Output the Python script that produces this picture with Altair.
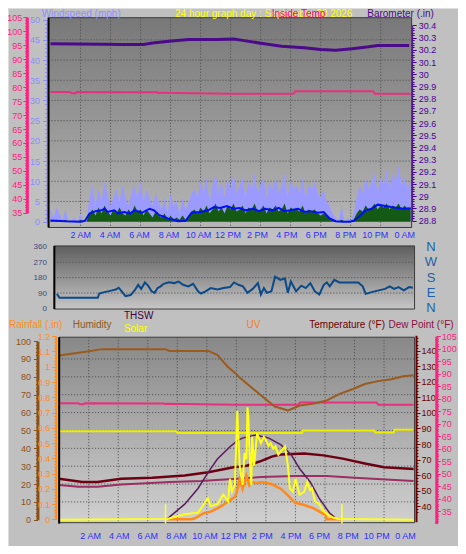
import altair as alt
import pandas as pd

W, H = 450, 538
SX, SY = W / 466, H / 554
FONT = "Liberation Sans"


def X(v):
    return round(v * SX, 2)


def Y(v):
    return round(v * SY, 2)


# ---------------- data ----------------
time_ticks = [2, 4, 6, 8, 10, 12, 14, 16, 18, 20, 22, 24]
grid_hours = [2, 4, 6, 8, 10, 12, 14, 16, 18, 20, 22]
wind_grid = [5, 10, 15, 20, 25, 30, 35, 40, 45]
dir_grid = [90, 180, 270]
hum_grid = [10, 20, 30, 40, 50, 60, 70, 80, 90]

gust_hours = [round(i * 0.2, 1) for i in range(121)]
gust_mph = [3, 1, 3.5, 2, 0.5, 3,
            0, 0, 1, 0, 2, 0, 0.5,
            6, 9, 4, 8, 5, 10, 7, 4, 6, 8, 5, 9, 6, 4, 7, 9, 6, 10, 5, 8, 6, 4, 7, 5,
            3, 6, 2, 7, 4, 5, 2, 6, 3, 5, 7,
            8, 6, 10, 7, 11, 5, 9, 12, 7, 10, 6, 11, 8, 12, 7, 9, 11, 6, 10, 8,
            12, 7, 9, 11, 6, 10, 8, 11, 7, 9, 12, 6, 10, 8, 9, 7, 11, 6, 9, 8, 10, 7, 6, 8,
            5, 4, 2, 1, 0, 4, 0, 1, 0, 2,
            6, 9, 7, 11, 8, 10, 12, 7, 11, 9, 13, 8, 12, 10, 14, 9, 11, 8, 10]
wind_mph = [0.5, 0, 0.5, 0, 0, 0.5,
            0, 0, 0, 0, 0.5, 0, 0,
            2, 3, 1.5, 3.5, 2, 4, 2.5, 1.5, 3, 2, 3.5, 2, 1.5, 3, 2, 4, 2.5, 3, 1.5, 3, 2, 1, 2.5, 1.5,
            1, 2, 0.5, 1.5, 0.5, 1, 0.5, 1.5, 0.5, 1, 2.5,
            3, 2, 3.5, 2.5, 4, 2, 3, 4.5, 2.5, 3.5, 2, 4, 3, 4.5, 2.5, 3, 4, 2, 3.5, 3,
            4.5, 2.5, 3, 4, 2, 3.5, 3, 4, 2.5, 3, 4.5, 2, 3.5, 3, 3, 2.5, 4, 2, 3, 2.5, 3, 2, 1.5, 2,
            1.5, 1, 0.5, 0, 0, 0.5, 0, 0, 0, 0.5,
            2, 3, 2.5, 4, 3, 3.5, 4.5, 3, 4, 3.5, 4.5, 3, 4, 3.5, 4.5, 3, 4, 3, 3.5]

avg_hours = [0, 1.0, 2.0, 2.3, 2.6, 3.0, 3.4, 3.6, 3.8, 4.25, 4.5, 4.9, 5.3, 5.6, 6.1, 6.6, 6.9,
             7.25, 7.6, 7.9, 8.1, 8.5, 9.0, 9.4, 10.0, 10.5, 10.9, 11.3, 11.75, 12.2, 12.6, 13.0,
             13.5, 13.9, 14.3, 14.8, 15.2, 15.6, 16.0, 16.5, 16.9, 17.3, 17.8, 18.2, 18.6, 19.0,
             19.5, 19.9, 20.2, 20.55, 21.0, 21.4, 21.8, 22.3, 22.7, 23.1, 23.55, 24.0]
avg_mph = [0.3, 0.1, 0, 0.2, 2.0, 2.6, 2.8, 3.2, 2.4, 2.8, 2.0, 2.4, 2.0, 2.8, 2.2, 3.2, 2.8,
           1.6, 1.2, 0.6, 0.6, 0.1, 0.2, 2.2, 2.4, 2.8, 3.6, 3.4, 3.85, 3.2, 3.4, 2.8,
           3.2, 2.6, 3.2, 2.8, 3.4, 2.6, 2.8, 3.2, 2.4, 2.6, 2.2, 2.4, 0.8, 0.1,
           0, 0, 0.2, 1.2, 2.8, 3.2, 4.2, 3.85, 3.6, 3.4, 3.2, 3.3]

baro_hours = [0, 3.6, 4.7, 6.2, 6.8, 7.9, 9.2, 11.1, 12.2, 12.8, 13.9, 15.4, 16.9, 18.0,
              19.0, 20.1, 21.2, 21.8, 23.9]
baro_inhg = [30.25, 30.246, 30.245, 30.244, 30.257, 30.27, 30.286, 30.286, 30.29, 30.278,
             30.257, 30.23, 30.217, 30.203, 30.198, 30.21, 30.225, 30.235, 30.235]

intemp_hours = [0, 1.3, 1.4, 1.65, 1.75, 7.1, 7.2, 7.3, 12.0, 16.2, 16.3, 21.5, 21.6, 24.0]
intemp_f = [78.2, 78.2, 77.8, 77.8, 78.2, 78.1, 77.8, 78.0, 77.6, 77.6, 78.5, 78.5, 77.6, 77.6]

dir_hours = [0.17, 0.34, 2.9, 3.0, 3.35, 3.8, 4.1, 4.3, 4.5, 4.75, 5.1, 5.4, 5.6, 5.8, 6.05,
             6.26, 6.5, 6.7, 6.9, 7.1, 7.3, 7.66, 8.0, 8.3, 8.6, 8.95, 9.27, 9.6, 9.8, 10.1,
             10.45, 10.9, 11.3, 11.74, 12.0, 12.3, 12.6, 12.9, 13.25, 13.6, 13.8, 14.0, 14.2,
             14.5, 14.75, 15.1, 15.4, 15.6, 15.8, 16.15, 16.5, 16.8, 17.1, 17.4, 17.7, 18.0,
             18.2, 18.4, 18.7, 19.05, 20.3, 20.6, 20.8, 21.2, 21.6, 22.1, 22.4, 22.7, 23.0,
             23.35, 23.7, 23.95]
dir_deg = [85, 62, 62, 87, 95, 104, 110, 121, 100, 72, 78, 110, 138, 114, 152,
           133, 100, 91, 119, 129, 144, 153, 148, 157, 138, 129, 144, 100, 87, 100,
           119, 110, 119, 125, 152, 138, 129, 91, 114, 148, 81, 119, 91,
           100, 186, 167, 176, 91, 157, 100, 133, 119, 148, 100, 81, 138,
           152, 129, 167, 152, 152, 129, 85, 95, 104, 114, 129, 114, 125,
           106, 125, 121]
compass_deg = [360, 270, 180, 90, 0]
compass_txt = ["N", "W", "S", "E", "N"]

hum_hours = [0, 1.9, 2.9, 7.2, 7.45, 10.1, 10.7, 11.4, 12.0, 12.2, 12.9, 13.7, 14.6, 15.5,
             16.3, 17.25, 18.1, 19.0, 19.9, 20.7, 21.6, 22.5, 23.3, 24.0]
hum_pct = [92.0, 94.2, 95.5, 95.5, 94.5, 94.5, 92.3, 85.8, 81.4, 79.8, 74.9, 69.4, 63.4, 61.2,
           63.9, 65.0, 66.7, 70.5, 73.2, 76.0, 77.6, 78.7, 80.3, 80.9]

inhum_hours = [0, 7.95, 8.0, 16.45, 16.5, 21.35, 21.4, 22.65, 22.7, 24]
inhum_pct = [49.6, 49.6, 48.6, 48.6, 49.9, 49.9, 48.9, 48.9, 50.4, 50.4]

temp_hours = [0, 1.57, 2.6, 4.2, 6.3, 8.5, 10.1, 11.8, 12.7, 13.7, 14.4, 15.0, 16.6, 17.9,
              19.2, 20.7, 22.0, 24.0]
temp_f = [57.7, 55.6, 55.6, 57.7, 58.3, 59.8, 61.9, 65.0, 66.0, 69.2, 71.9, 73.3, 73.9, 72.7,
          70.6, 67.5, 65.0, 64.0]

dew_hours = [0, 1.3, 2.6, 4.2, 7.5, 9.6, 12.0, 13.7, 15.9, 18.1, 20.3, 24.0]
dew_f = [53.6, 52.5, 52.5, 53.9, 55.6, 56.25, 57.7, 58.75, 59.4, 59.4, 58.1, 56.25]

thsw_hours = [7.3, 8.5, 9.4, 10.1, 10.7, 11.6, 12.1, 12.4, 13.3, 14.2, 15.0, 15.7, 16.3,
              17.0, 17.6, 18.3, 18.8]
thsw_f = [31.7, 41.3, 51.4, 61.9, 70.2, 78.6, 82.3, 83.8, 85.8, 83.8, 79.6, 73.3, 63.9,
          55.6, 45.2, 35.8, 31.7]

solar_hours = [0, 7.32, 8.5, 9.41, 9.8, 10.07, 10.26, 10.72, 11.11, 11.44, 11.57, 11.7, 11.9,
               12.06, 12.22, 12.42, 12.55, 12.68, 12.75, 12.81, 12.88, 13.01, 13.07, 13.2,
               13.4, 13.66, 13.86, 13.99, 14.18, 14.31, 14.5, 14.64, 14.84, 15.03, 15.29,
               15.49, 15.62, 15.82, 16.01, 16.27, 16.6, 16.8, 16.99, 17.12, 17.32, 17.58,
               17.9, 18.24, 18.56, 18.89, 24]
solar_wm2 = [0, 5, 37, 48, 105, 146, 92, 105, 170, 125, 277, 190, 236,
             736, 367, 236, 450, 408, 759, 700, 474, 234, 562, 365,
             584, 518, 560, 540, 500, 518, 480, 496, 440, 464, 496,
             365, 212, 190, 277, 169, 190, 256, 200, 212, 125, 110,
             59, 30, 15, 5, 0]

uv_hours = [7.32, 8.95, 9.15, 9.8, 10.26, 10.72, 11.11, 11.57, 11.9, 12.03, 12.22, 12.42,
            12.68, 12.88, 13.07, 13.33, 13.73, 14.38, 15.03, 15.49, 15.95, 16.6, 17.25, 17.9,
            18.04, 18.1, 19.15]
uv_index = [0, 0, 0.05, 0.4, 0.5, 0.72, 0.94, 1.26, 1.46, 1.78, 2.63, 1.99,
            2.85, 2.21, 2.42, 2.38, 2.42, 2.31, 1.99, 1.57, 1.1, 0.94, 0.72, 0.34,
            0.34, 0, 0]

sun_events = [7.2, 19.15]

# axis tick values
pink_major = [35, 40, 45, 50, 55, 60, 65, 70, 75, 80, 85, 90, 95, 100, 105]
pink_minor = list(range(35, 106))
wind_major = [0, 5, 10, 15, 20, 25, 30, 35, 40, 45, 50]
wind_minor = list(range(0, 51))
baro_major = [round(28.8 + 0.1 * i, 1) for i in range(17)]
baro_minor = [round(28.8 + 0.02 * i, 2) for i in range(81)]
dir_major = [0, 90, 180, 270, 360]
hum_major = [0, 10, 20, 30, 40, 50, 60, 70, 80, 90, 100]
hum_minor = list(range(0, 101, 2))
rain_major = [round(0.1 * i, 1) for i in range(13)]
rain_minor = [round(0.02 * i, 2) for i in range(61)]
temp_major = [40, 50, 60, 70, 80, 90, 100, 110, 120, 130, 140]
temp_minor = list(range(36, 149, 2))
pinkb_major = [35, 40, 45, 50, 55, 60, 65, 70, 75, 80, 85, 90, 95, 100, 105]
pinkb_minor = list(range(31, 106))


# ---------------- scales ----------------
def sc(domain, rng):
    return alt.Scale(domain=domain, range=rng, nice=False, zero=False)


TOP_T = sc([0, 24], [X(44), X(417)])
MID_T = sc([0, 24], [X(48), X(420)])
BOT_T = sc([0, 24], [X(53), X(420)])

WIND = sc([0, 50], [Y(220), Y(12)])
PINK_TOP = sc([35, 105], [Y(211), Y(9.4)])
BARO = sc([28.8, 30.4], [Y(219), Y(18)])
DIR = sc([0, 360], [Y(309.3), Y(246)])
HUM = sc([0, 100], [Y(527), Y(343)])
RAIN = sc([0, 1.2], [Y(526.5), Y(338)])
TEMP = sc([30, 150], [Y(529), Y(337)])
PINK_BOT = sc([30, 105], [Y(530.9), Y(338.1)])
SOLAR = sc([0, 1200], [Y(527), Y(344)])
UV = sc([0, 12], [Y(526.5), Y(338)])

NUM_EXPR = "format(datum.value, '~g')"


def series(h, v, xs, ys, color, width=1.5, kind="line"):
    df = pd.DataFrame({"h": h, "v": v})
    base = alt.Chart(df)
    if kind == "area":
        m = base.mark_area(color=color, opacity=1)
    else:
        m = base.mark_line(color=color, strokeWidth=width)
    return m.encode(x=alt.X("h:Q", scale=xs, axis=None),
                    y=alt.Y("v:Q", scale=ys, axis=None))


def yaxis(ys, orient, xpos, values, color, labels=True, size=4, domain=True,
          dwidth=2, font=9, pad=1):
    off = -xpos if orient == "left" else xpos - W
    ax = alt.Axis(orient=orient, offset=off, values=values, labels=labels,
                  ticks=size > 0, tickSize=size, tickColor=color, tickWidth=1,
                  domain=domain, domainColor=color, domainWidth=dwidth,
                  labelColor=color, labelFontSize=font, labelFont=FONT,
                  labelPadding=pad, labelOverlap=False, labelBound=False,
                  labelFlush=False, grid=False, title=None, labelExpr=NUM_EXPR)
    df = pd.DataFrame({"v": [values[0]]})
    return alt.Chart(df).mark_point(opacity=0).encode(
        y=alt.Y("v:Q", scale=ys, axis=ax))


LABEL_EXPR = ("datum.value == 24 ? '0 AM' : datum.value < 12 ? datum.value + ' AM' : "
              "datum.value == 12 ? '12 PM' : (datum.value - 12) + ' PM'")


def xlabels(ypos, rng, color):
    ax = alt.Axis(orient="bottom", offset=ypos - H, values=time_ticks,
                  labelExpr=LABEL_EXPR, ticks=False, tickSize=0, domain=False,
                  labelColor=color, labelFontSize=9, labelFont=FONT,
                  labelPadding=0, labelOverlap=False, labelBound=False,
                  labelFlush=False, grid=False, title=None)
    df = pd.DataFrame({"v": [2]})
    return alt.Chart(df).mark_point(opacity=0).encode(
        x=alt.X("v:Q", scale=sc([0, 24], rng), axis=ax))


def panel(x0, x1, y0, y1, c0, c1):
    grad = alt.Gradient(gradient="linear",
                        stops=[alt.GradientStop(color=c0, offset=0),
                               alt.GradientStop(color=c1, offset=1)],
                        x1=0, x2=0, y1=0, y2=1)
    return alt.Chart(pd.DataFrame({"a": [0]})).mark_rect(
        fill=grad, stroke="#3a3a3a", strokeWidth=1).encode(
        x=alt.value(X(x0)), x2=alt.value(X(x1)),
        y=alt.value(Y(y0)), y2=alt.value(Y(y1)))


def vgrid(xs, y0, y1):
    return alt.Chart(pd.DataFrame({"h": grid_hours})).mark_rule(
        color="#4a4a4a", strokeDash=[1, 2], strokeWidth=1).encode(
        x=alt.X("h:Q", scale=xs, axis=None),
        y=alt.value(Y(y0)), y2=alt.value(Y(y1)))


def hgrid(vals, ys, x0, x1):
    return alt.Chart(pd.DataFrame({"v": vals})).mark_rule(
        color="#4a4a4a", strokeDash=[1, 2], strokeWidth=1).encode(
        y=alt.Y("v:Q", scale=ys, axis=None),
        x=alt.value(X(x0)), x2=alt.value(X(x1)))


def edge(x, y0, y1, color="#000000", w=2):
    return alt.Chart(pd.DataFrame({"a": [0]})).mark_rule(
        color=color, strokeWidth=w).encode(
        x=alt.value(X(x)), y=alt.value(Y(y0)), y2=alt.value(Y(y1)))


def label(txt, x, y, color, size=10):
    return alt.Chart(pd.DataFrame({"a": [0]})).mark_text(
        align="left", baseline="middle", font=FONT, fontSize=size, color=color).encode(
        x=alt.value(X(x)), y=alt.value(Y(y)), text=alt.value(txt))


layers = [
    # panels
    panel(42, 418, 10, 226, "#787878", "#b6b6b6"),
    panel(48, 421, 245, 310, "#5e5e5e", "#c6c6c6"),
    panel(53, 421, 339, 530, "#888888", "#d0d0d0"),
    # grids
    vgrid(TOP_T, 10, 226),
    hgrid(wind_grid, WIND, 42, 418),
    hgrid(dir_grid, DIR, 48, 421),
    vgrid(BOT_T, 339, 530),
    hgrid(hum_grid, HUM, 53, 421),
    # top panel data
    series(gust_hours, gust_mph, TOP_T, WIND, "#9b9bff", kind="area"),
    series(gust_hours, wind_mph, TOP_T, WIND, "#145a14", kind="area"),
    series(avg_hours, avg_mph, TOP_T, WIND, "#0010f0", 2),
    series(intemp_hours, intemp_f, TOP_T, PINK_TOP, "#e8317c", 2),
    series(baro_hours, baro_inhg, TOP_T, BARO, "#4a0a8a", 3),
    # middle panel data
    series(dir_hours, dir_deg, MID_T, DIR, "#0a4a8a", 2),
    # bottom panel data
    series(intemp_hours, intemp_f, BOT_T, PINK_BOT, "#e8317c", 2),
    series(inhum_hours, inhum_pct, BOT_T, HUM, "#eeee00", 2),
    series(hum_hours, hum_pct, BOT_T, HUM, "#9a5b1c", 2),
    series(dew_hours, dew_f, BOT_T, TEMP, "#9a2f62", 2),
    series(temp_hours, temp_f, BOT_T, TEMP, "#6e0014", 2.5),
    series(thsw_hours, thsw_f, BOT_T, TEMP, "#5a1a5e", 1.5),
    series(uv_hours, uv_index, BOT_T, UV, "#ff8a1a", 2.5),
    series(solar_hours, solar_wm2, BOT_T, SOLAR, "#ffff1a", 2),
    alt.Chart(pd.DataFrame({"h": sun_events})).mark_rule(
        color="#ffff40", strokeWidth=1.5).encode(
        x=alt.X("h:Q", scale=BOT_T, axis=None),
        y=alt.value(Y(511)), y2=alt.value(Y(531))),
    # borders
    edge(42, 10, 226),
    edge(48, 245, 310),
    edge(53, 339, 531),
    # axes - top
    yaxis(PINK_TOP, "left", X(19.5), pink_minor, "#ff2080", labels=False, size=2, domain=False),
    yaxis(PINK_TOP, "left", X(19.5), pink_major, "#ff2080", size=4, dwidth=3),
    yaxis(WIND, "left", X(40), wind_minor, "#8c8cff", labels=False, size=2, domain=False),
    yaxis(WIND, "left", X(40), wind_major, "#8c8cff", size=4, dwidth=1, pad=3),
    yaxis(BARO, "right", X(418.5), baro_minor, "#4b0096", labels=False, size=2, domain=False),
    yaxis(BARO, "right", X(418.5), baro_major, "#4b0096", size=4, dwidth=1, pad=2),
    xlabels(Y(229.5), [X(44.2), X(410.3)], "#2f2fff"),
    # axes - middle
    yaxis(DIR, "left", X(46), dir_major, "#3c4a78", size=0, domain=False, font=8, pad=6),
    alt.Chart(pd.DataFrame({"v": compass_deg, "t": compass_txt})).mark_text(
        font=FONT, fontSize=13, color="#2060a8", align="center", baseline="middle").encode(
        x=alt.value(X(438)), y=alt.Y("v:Q", scale=DIR, axis=None), text="t:N"),
    # axes - bottom
    yaxis(HUM, "left", X(30.5), hum_minor, "#8b5016", labels=False, size=2, domain=False),
    yaxis(HUM, "left", X(30.5), hum_major, "#8b5016", size=4, dwidth=3, pad=3),
    yaxis(RAIN, "left", X(49.5), rain_minor, "#ff8c1a", labels=False, size=2, domain=False),
    yaxis(RAIN, "left", X(49.5), rain_major, "#ff8c1a", size=4, dwidth=2, pad=2),
    yaxis(TEMP, "right", X(422.5), temp_minor, "#6b0000", labels=False, size=2, domain=False),
    yaxis(TEMP, "right", X(422.5), temp_major, "#6b0000", size=4, dwidth=2, pad=1),
    yaxis(PINK_BOT, "right", X(443.5), pinkb_minor, "#ff2080", labels=False, size=2, domain=False),
    yaxis(PINK_BOT, "right", X(443.5), pinkb_major, "#ff2080", size=4, dwidth=3, pad=1),
    xlabels(Y(539), [X(55.4), X(411)], "#2f2fff"),
    # titles
    label("Windspeed (mph)", 35, 6, "#9090ff"),
    label("24 hour graph day : September 20 2026", 173, 6, "#ffff00"),
    label("Inside Temp", 273, 6, "#ff0080"),
    label("Barometer (.in)", 372, 6, "#4b0a8c"),
    label("Rainfall (.in)", 1, 326, "#ff8c1a"),
    label("Humidity", 67, 326, "#8b5a1e"),
    label("THSW", 120, 317, "#400040"),
    label("Solar", 120, 331, "#ffff00"),
    label("UV", 247, 326, "#f08020"),
    label("Temperature (°F)", 312, 326, "#6b0000"),
    label("Dew Point (°F)", 394, 326, "#8b1040"),
]

chart = alt.layer(*layers).resolve_scale(
    x="independent", y="independent"
).properties(
    width=W, height=H, padding=0,
    autosize=alt.AutoSizeParams(type="none"),
    background="#c0c0c0",
).configure_view(stroke=None).configure(font=FONT)

chart.save("out.html", embed_options={"renderer": "svg", "actions": False})
